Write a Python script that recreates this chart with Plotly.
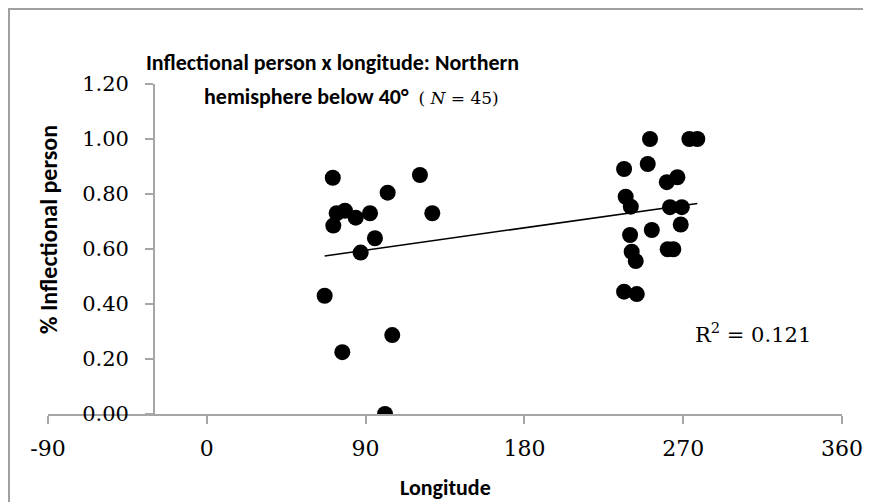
import numpy as np
import plotly.graph_objects as go

# Data
longitude = [71.4, 120.8, 102.5, 127.8, 73.6, 78.3, 84.4, 92.5, 71.7, 95.3,
             87.2, 66.8, 105.1, 76.8, 101.0,
             251.2, 273.5, 278.0, 236.5, 249.9, 260.7, 266.7, 237.4, 240.3, 262.5,
             269.2, 268.6, 239.9, 252.2, 240.8, 243.1, 261.2, 264.4, 236.5, 243.7]
pct_inflectional = [0.859, 0.869, 0.805, 0.730, 0.730, 0.739, 0.714, 0.730, 0.685, 0.639,
                    0.587, 0.430, 0.287, 0.225, 0.000,
                    1.000, 1.000, 1.000, 0.891, 0.909, 0.843, 0.861, 0.790, 0.754, 0.752,
                    0.752, 0.689, 0.651, 0.669, 0.590, 0.556, 0.599, 0.599, 0.445, 0.436]
x_ticks = [-90, 0, 90, 180, 270, 360]
x_tick_labels = ["-90", "0", "90", "180", "270", "360"]
y_ticks = [0.0, 0.2, 0.4, 0.6, 0.8, 1.0, 1.2]
y_tick_labels = ["0.00", "0.20", "0.40", "0.60", "0.80", "1.00", "1.20"]
r_squared_text = "R<sup>2</sup> = 0.121"

# linear trendline through the data
slope, intercept = np.polyfit(longitude, pct_inflectional, 1)
trend_x = [min(longitude), max(longitude)]
trend_y = [slope * v + intercept for v in trend_x]

SANS = "Carlito, 'Liberation Sans Narrow', Roboto, sans-serif"
SERIF = "'DejaVu Serif', serif"
GRAY = "#A6A6A6"

fig = go.Figure()
fig.add_trace(go.Scatter(x=longitude, y=pct_inflectional, mode="markers",
                         marker=dict(size=16, color="black"),
                         showlegend=False, hoverinfo="skip"))
fig.add_trace(go.Scatter(x=trend_x, y=trend_y, mode="lines",
                         line=dict(color="black", width=1.5),
                         showlegend=False, hoverinfo="skip"))

# page body adds an 8px offset, so the figure is drawn 8px smaller
OFF = 8
W, H = 871 - OFF, 502 - OFF
ML, MR, MT, MB = 48 - OFF, 29, 84 - OFF, 88
pw, ph = W - ML - MR, H - MT - MB

def px_x(p):
    return (p - OFF - ML) / pw

def px_y(p):
    return (H - MB - (p - OFF)) / ph

fig.update_layout(
    width=W, height=H,
    margin=dict(l=ML, r=MR, t=MT, b=MB, autoexpand=False),
    paper_bgcolor="white", plot_bgcolor="white",
    xaxis=dict(range=[-90, 360], tickvals=x_ticks, ticktext=x_tick_labels,
               showgrid=False, zeroline=False,
               showline=True, linecolor=GRAY, linewidth=1.5,
               ticks="outside", ticklen=8, tickcolor=GRAY, tickwidth=1.5,
               tickfont=dict(family=SERIF, size=22, color="black"),
               ticklabelstandoff=6),
    yaxis=dict(range=[0, 1.2], tickvals=y_ticks, ticktext=y_tick_labels,
               showgrid=False, zeroline=False,
               anchor="free", position=(-30 + 90) / 450,
               showline=True, linecolor=GRAY, linewidth=1.5,
               ticks="outside", ticklen=8, tickcolor=GRAY, tickwidth=1.5,
               tickfont=dict(family=SERIF, size=21, color="black"),
               ticklabelstandoff=12),
    annotations=[
        dict(text="<b>Inflectional person x longitude: Northern</b>", xref="paper", yref="paper",
             x=px_x(332), y=px_y(62), xanchor="center", yanchor="middle", showarrow=False,
             font=dict(family=SANS, size=22, color="black")),
        dict(text="<b>hemisphere below 40°</b>  "
                  "<span style='font-family:DejaVu Serif;font-size:17px;font-weight:normal'>"
                  "( <i>N</i> = 45)</span>",
             xref="paper", yref="paper",
             x=px_x(351), y=px_y(96), xanchor="center", yanchor="middle", showarrow=False,
             font=dict(family=SANS, size=22, color="black")),
        dict(text="<b>Longitude</b>", xref="paper", yref="paper",
             x=px_x(445), y=px_y(488), xanchor="center", yanchor="middle", showarrow=False,
             font=dict(family=SANS, size=22, color="black")),
        dict(text="<b>% Inflectional person</b>", xref="paper", yref="paper",
             x=px_x(48), y=px_y(230), xanchor="center", yanchor="middle", showarrow=False,
             textangle=-90, font=dict(family=SANS, size=24, color="black")),
        dict(text=r_squared_text, xref="paper", yref="paper",
             x=px_x(693), y=px_y(333), xanchor="left", yanchor="middle", showarrow=False,
             font=dict(family=SERIF, size=21, color="black")),
    ],
    shapes=[
        dict(type="rect", xref="paper", yref="paper",
             x0=px_x(9), x1=px_x(900), y0=px_y(530), y1=px_y(9),
             line=dict(color="#A0A0A0", width=2), fillcolor="rgba(0,0,0,0)", layer="below"),
    ],
)

fig.write_html("out.html")
